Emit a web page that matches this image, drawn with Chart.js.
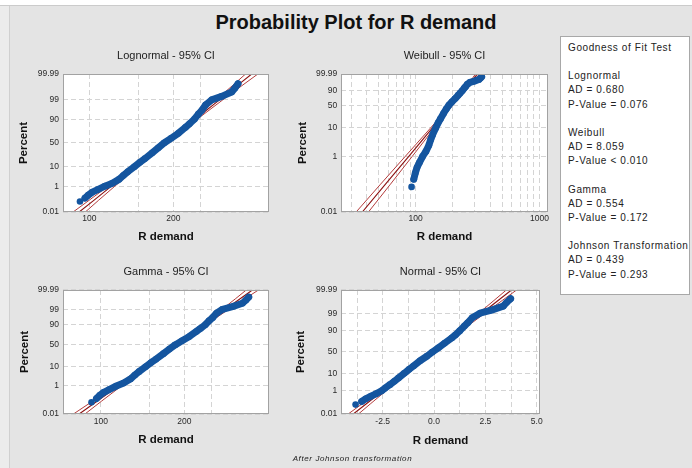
<!DOCTYPE html>
<html><head><meta charset="utf-8">
<script src="https://cdn.jsdelivr.net/npm/chart.js@4.4.1/dist/chart.umd.min.js"></script>
<style>
html,body{margin:0;padding:0;}
body{width:692px;height:468px;position:relative;overflow:hidden;background:#fff;font-family:'Liberation Sans',Arial,sans-serif;}
#bg{position:absolute;left:0;top:5px;width:692px;height:463px;background:#e4e4e4;border-top:1px solid #cbcbcb;box-sizing:border-box;}
#strip{position:absolute;left:0;top:6px;width:9px;height:462px;background:#ececec;border-right:1px solid #d0d0d0;}
#title{position:absolute;left:156px;top:12.4px;width:400px;text-align:center;font-weight:bold;font-size:20px;line-height:20px;color:#111;white-space:nowrap;}
canvas{position:absolute;}
#gof{position:absolute;left:560px;top:36px;width:130px;height:259px;background:#fff;border:1px solid #a8a8a8;box-sizing:border-box;}
#gofText{position:absolute;left:568px;top:40.9px;font-size:10px;line-height:14.17px;letter-spacing:0.6px;color:#222;white-space:pre;}
#note{position:absolute;left:292.7px;top:454.2px;font-size:8px;line-height:10px;font-style:italic;letter-spacing:0.6px;color:#222;white-space:nowrap;}
</style></head>
<body>
<div id="bg"></div>
<div id="strip"></div>
<div id="title">Probability Plot for R demand</div>
<canvas id="c1" width="280" height="210" style="left:0;top:40px"></canvas>
<canvas id="c2" width="280" height="210" style="left:280px;top:40px"></canvas>
<canvas id="c3" width="280" height="208" style="left:0;top:260px"></canvas>
<canvas id="c4" width="280" height="208" style="left:280px;top:260px"></canvas>
<div id="gof"></div>
<div id="gofText"></div>
<div id="note">After Johnson transformation</div>
<script>
// ---------------- data ----------------
const percents = [0.08, 0.15, 0.25, 0.4, 0.6, 1, 1.5, 2.5, 4, 6, 10, 15, 20, 30, 40, 50, 60, 70, 80, 85, 90, 94, 96, 98, 99, 99.4, 99.7, 99.85, 99.93];
const rDemand = [92.6, 96.5, 99.2, 102.5, 107.2, 113.8, 120.9, 127.8, 132.4, 137.3, 145.0, 151.9, 158.3, 168.2, 176.8, 185.3, 196.3, 208.5, 221.0, 228.6, 237.9, 246.0, 252.8, 261.3, 274.6, 298.2, 323.8, 332.8, 341.2];
const johnsonValues = [-3.82, -3.52, -3.33, -3.07, -2.83, -2.55, -2.39, -2.15, -1.93, -1.73, -1.45, -1.21, -1.00, -0.68, -0.35, -0.08, 0.21, 0.51, 0.86, 1.05, 1.26, 1.48, 1.64, 1.86, 2.24, 2.80, 3.37, 3.53, 3.73];

const ciPercents = [0.01, 0.1, 1, 10, 50, 90, 99, 99.9, 99.99];
const lognormalFit = [92, 103.8, 120.1, 146.7, 187.5, 239.7, 292.7, 338.8, 382];
const lognormalLower = [87.5, 99.8, 116.8, 144.4, 185.8, 235.9, 284.7, 325.8, 363.1];
const lognormalUpper = [96.8, 107.9, 123.5, 149.1, 189.2, 243.6, 300.9, 352.3, 401.9];
const weibullFit = [37.0, 57.0, 87.9, 136.6, 194.5, 243.6, 277.5, 299.5, 316];
const weibullLower = [33.0, 52.0, 82.4, 131.9, 190.0, 238.0, 270.0, 290.0, 304.6];
const weibullUpper = [41.5, 62.5, 93.8, 141.4, 199.0, 249.2, 285.3, 309.4, 328.0];
const gammaFit = [83.6, 97.2, 115.6, 144.5, 186.2, 235.3, 281.3, 318.6, 351.6];
const gammaLower = [79.7, 93.7, 112.7, 142.2, 184.5, 231.5, 273.6, 306.4, 334.2];
const gammaUpper = [87.7, 100.8, 118.6, 146.9, 187.9, 239.1, 289.2, 331.3, 369.9];
const normalFit = [-3.93, -3.279, -2.488, -1.407, -0.08, 1.247, 2.328, 3.119, 3.77];
const normalLower = [-4.18, -3.479, -2.638, -1.497, -0.14, 1.157, 2.178, 2.919, 3.52];
const normalUpper = [-3.68, -3.079, -2.338, -1.317, -0.02, 1.337, 2.478, 3.319, 4.02];

const percentTicks = [0.01, 1, 10, 50, 90, 99, 99.99];
const weibullPercentTicks = [0.01, 1, 10, 50, 90, 99.99];
const logGrid = [100, 150, 200, 250];
const logLabels = [100, 200];
const weibullGrid = [30, 40, 50, 60, 70, 80, 90, 100, 200, 300, 400, 500, 600, 700, 800, 900, 1000];
const weibullLabels = [100, 1000];
const johnsonGrid = [-3.75, -2.5, -1.25, 0, 1.25, 2.5, 3.75, 5];
const johnsonLabels = [-2.5, 0, 2.5, 5];

const gofTests = ['Lognormal', 'Weibull', 'Gamma', 'Johnson Transformation'];
const adValues = ['0.680', '8.059', '0.554', '0.439'];
const pValues = ['= 0.076', '< 0.010', '= 0.172', '= 0.293'];
const GAMMA_SHAPE = 30;

// ---------------- text box ----------------
(function () {
  const lines = ['Goodness of Fit Test'];
  gofTests.forEach((t, i) => { lines.push('', t, 'AD = ' + adValues[i], 'P-Value ' + pValues[i]); });
  document.getElementById('gofText').textContent = lines.join('\n');
})();

// ---------------- probability scale ----------------
function probit(p) {
  const a = [-3.969683028665376e+01, 2.209460984245205e+02, -2.759285104469687e+02, 1.383577518672690e+02, -3.066479806614716e+01, 2.506628277459239e+00];
  const b = [-5.447609879822406e+01, 1.615858368580409e+02, -1.556989798598866e+02, 6.680131188771972e+01, -1.328068155288572e+01];
  const c = [-7.784894002430293e-03, -3.223964580411365e-01, -2.400758277161838e+00, -2.549671348283685e+00, 4.374664141464968e+00, 2.938163982698783e+00];
  const d = [7.784695709041462e-03, 3.224671290700398e-01, 2.445134137142996e+00, 3.754408661907416e+00];
  const pl = 0.02425;
  let q, r;
  if (p < pl) {
    q = Math.sqrt(-2 * Math.log(p));
    return (((((c[0]*q+c[1])*q+c[2])*q+c[3])*q+c[4])*q+c[5]) / ((((d[0]*q+d[1])*q+d[2])*q+d[3])*q+1);
  }
  if (p > 1 - pl) {
    q = Math.sqrt(-2 * Math.log(1 - p));
    return -(((((c[0]*q+c[1])*q+c[2])*q+c[3])*q+c[4])*q+c[5]) / ((((d[0]*q+d[1])*q+d[2])*q+d[3])*q+1);
  }
  q = p - 0.5; r = q * q;
  return (((((a[0]*r+a[1])*r+a[2])*r+a[3])*r+a[4])*r+a[5])*q / (((((b[0]*r+b[1])*r+b[2])*r+b[3])*r+b[4])*r+1);
}
const TRANSFORMS = {
  lin: v => v,
  log: v => Math.log10(v),
  normal: v => probit(v / 100),
  weibull: v => Math.log(-Math.log(1 - v / 100)),
  gamma: v => { const a = 1 / (3 * Math.sqrt(GAMMA_SHAPE)); return 3 * Math.log(1 - a * a + a * probit(v / 100)); }
};

class ProbScale extends Chart.Scale {
  determineDataLimits() { this.min = this.options.min; this.max = this.options.max; }
  buildTicks() { return this.options.gridValues.map(v => ({ value: v })); }
  configure() {
    super.configure();
    this._tf = TRANSFORMS[this.options.kind];
    this._t0 = this._tf(this.min);
    this._t1 = this._tf(this.max);
  }
  getPixelForValue(v) { return this.getPixelForDecimal((this._tf(v) - this._t0) / (this._t1 - this._t0)); }
  getValueForPixel(px) { return this.min + this.getDecimalForPixel(px) * (this.max - this.min); }
  getLabelForValue(v) { return String(v); }
}
ProbScale.id = 'prob';
ProbScale.defaults = {};
Chart.register(ProbScale);

Chart.defaults.font.family = "'Liberation Sans', Arial, sans-serif";

const BLUE = '#14559f';
const FIT_RED = '#8c1010';
const CI_RED = '#b43c3c';
const GRID = '#d4d4d4';

function tickLabel(value) {
  const o = this.options;
  if (!o.labelValues.some(v => Math.abs(v - value) < 1e-9)) return '';
  return o.fixed ? value.toFixed(1) : String(value);
}

const plotFrame = {
  id: 'plotFrame',
  beforeDraw(chart) {
    const { ctx, chartArea: a } = chart;
    ctx.save(); ctx.fillStyle = '#ffffff'; ctx.fillRect(a.left, a.top, a.width, a.height); ctx.restore();
  },
  afterDraw(chart) {
    const { ctx, chartArea: a } = chart;
    ctx.save(); ctx.strokeStyle = '#a2a2a2'; ctx.lineWidth = 1;
    ctx.strokeRect(Math.round(a.left) + 0.5, Math.round(a.top) + 0.5, Math.round(a.width) - 1, Math.round(a.height) - 1);
    ctx.restore();
  }
};

function panel(id, o) {
  const pts = o.xs.map((x, i) => ({ x, y: percents[i] }));
  const curve = xs => xs.map((x, i) => ({ x, y: ciPercents[i] }));
  const axisCommon = {
    grid: { color: GRID, lineWidth: 1, drawTicks: false, borderDash: [5, 3] },
    border: { display: false, dash: [5, 3] }
  };
  new Chart(document.getElementById(id), {
    type: 'scatter',
    data: {
      datasets: [
        { data: pts, showLine: true, borderColor: BLUE, borderWidth: 7, pointRadius: 3.3, pointBackgroundColor: BLUE,
          pointBorderWidth: 0, borderCapStyle: 'round', borderJoinStyle: 'round',
          segment: { borderColor: c => c.p0DataIndex < 1 ? 'rgba(0,0,0,0)' : undefined } },
        { data: curve(o.fit), showLine: true, borderColor: FIT_RED, borderWidth: 1.1, pointRadius: 0 },
        { data: curve(o.lower), showLine: true, borderColor: CI_RED, borderWidth: 1, pointRadius: 0 },
        { data: curve(o.upper), showLine: true, borderColor: CI_RED, borderWidth: 1, pointRadius: 0 }
      ]
    },
    options: {
      responsive: false, animation: false, events: [],
      layout: { padding: { left: 0, right: o.padRight, top: 0, bottom: 0 } },
      plugins: {
        legend: { display: false }, tooltip: { enabled: false },
        title: { display: true, text: o.title, fullSize: false, color: '#222', font: { size: 11, weight: 'normal' },
                 padding: { top: o.tTop, bottom: o.tBottom } }
      },
      scales: {
        x: Object.assign({
          type: 'prob', position: 'bottom', kind: o.xKind, min: o.xMin, max: o.xMax,
          gridValues: o.xGrid, labelValues: o.xLabels, fixed: !!o.xFixed,
          afterFit: s => { s.height = o.xH; },
          ticks: { autoSkip: false, maxRotation: 0, minRotation: 0, padding: o.xTickPad, font: { size: 8.5 }, color: '#2a2a2a', callback: tickLabel },
          title: { display: true, text: 'R demand', color: '#111', font: { size: 11.5, weight: 'bold' }, padding: { top: 0, bottom: o.xTitlePad } }
        }, axisCommon),
        y: Object.assign({
          type: 'prob', position: 'left', kind: o.yKind, min: 0.01, max: 99.99,
          gridValues: o.yGrid, labelValues: o.yGrid, fixed: false,
          afterFit: s => { s.width = o.yW; },
          ticks: { autoSkip: false, padding: o.yTickPad, font: { size: 8.5 }, color: '#2a2a2a', callback: tickLabel },
          title: { display: true, text: 'Percent', color: '#111', font: { size: 11.5, weight: 'bold' }, padding: { top: o.yTitlePad, bottom: 0 } }
        }, axisCommon)
      }
    },
    plugins: [plotFrame]
  });
}

panel('c1', { title: 'Lognormal - 95% CI', xs: rDemand, fit: lognormalFit, lower: lognormalLower, upper: lognormalUpper,
  xKind: 'log', xMin: 80.5, xMax: 440.6, xGrid: logGrid, xLabels: logLabels, yKind: 'normal', yGrid: percentTicks,
  padRight: 11, tTop: 9.1, tBottom: 11.7, xH: 38, yW: 63, xTickPad: 1.9, xTitlePad: 6.4, yTickPad: 4, yTitlePad: 17.1 });

panel('c2', { title: 'Weibull - 95% CI', xs: rDemand, fit: weibullFit, lower: weibullLower, upper: weibullUpper,
  xKind: 'log', xMin: 24.9, xMax: 1173, xGrid: weibullGrid, xLabels: weibullLabels, yKind: 'weibull', yGrid: weibullPercentTicks,
  padRight: 12, tTop: 9.1, tBottom: 11.7, xH: 38, yW: 61, xTickPad: 1.9, xTitlePad: 6.4, yTickPad: 3.7, yTitlePad: 15.6 });

panel('c3', { title: 'Gamma - 95% CI', xs: rDemand, fit: gammaFit, lower: gammaLower, upper: gammaUpper,
  xKind: 'log', xMin: 73.1, xMax: 403.6, xGrid: logGrid, xLabels: logLabels, yKind: 'gamma', yGrid: percentTicks,
  padRight: 11, tTop: 5.1, tBottom: 11.7, xH: 54, yW: 63, xTickPad: 2.2, xTitlePad: 21.1, yTickPad: 4, yTitlePad: 18.1 });

panel('c4', { title: 'Normal - 95% CI', xs: johnsonValues, fit: normalFit, lower: normalLower, upper: normalUpper,
  xKind: 'lin', xMin: -4.53, xMax: 5.16, xGrid: johnsonGrid, xLabels: johnsonLabels, xFixed: true, yKind: 'normal', yGrid: percentTicks,
  padRight: 20, tTop: 5.1, tBottom: 11.7, xH: 54, yW: 61, xTickPad: 2.2, xTitlePad: 20.4, yTickPad: 3.7, yTitlePad: 14.1 });
</script>
</body></html>
